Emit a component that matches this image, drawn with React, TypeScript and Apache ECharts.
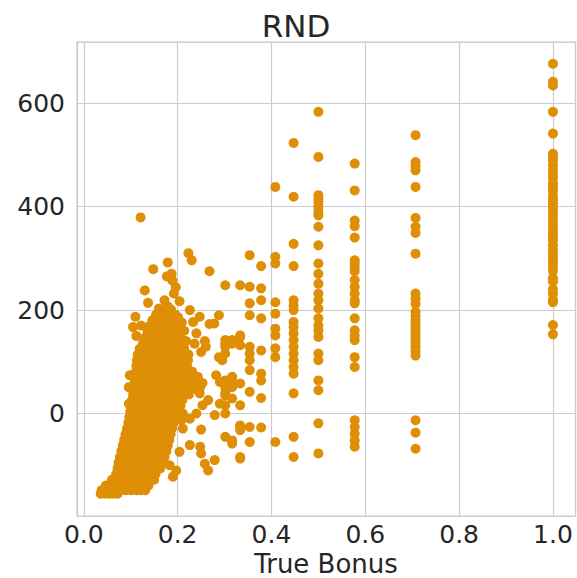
import React, { useEffect, useRef } from "react";
import * as echarts from "echarts";

const TITLE = "RND";
const X_NAME = "True Bonus";
const POINT_COLOR = "#de8f05";
const TEXT_COLOR = "#262626";
const GRID_COLOR = "#cccccc";

// Columns at discrete x values
const colX = [1.0, 0.7071, 0.5774, 0.5, 0.4472, 0.4082, 0.378, 0.3536, 0.3333, 0.3162, 0.3015];
const col100 = [676, 641, 634, 583, 541, 502, 495, 488, 480, 470, 462, 455, 445, 438, 430, 420, 412, 405, 398, 390, 382, 375, 366, 358, 350, 342, 335, 325, 316, 308, 300, 292, 285, 276, 262, 255, 240, 232, 220, 215, 171, 153];
const col071 = [538, 486, 478, 470, 438, 378, 361, 349, 309, 232, 222, 212, 196, 188, 180, 172, 165, 158, 150, 143, 135, 128, 120, 112, -13, -37, -68];
const col058 = [483, 431, 373, 362, 340, 296, 290, 283, 275, 258, 245, 232, 219, 213, 184, 161, 151, 142, 109, 90, -13, -26, -39, -52, -64];
const col050 = [583, 496, 422, 415, 409, 399, 390, 383, 361, 325, 290, 270, 251, 232, 219, 203, 184, 170, 160, 148, 116, 103, 64, 45, -19, -77];
const col045 = [523, 419, 328, 285, 219, 209, 200, 177, 167, 155, 142, 129, 116, 103, 90, 77, 39, -45, -84];
const col041 = [438, 303, 290, 215, 193, 164, 151, 126, 109, -55];
const col038 = [285, 242, 219, 184, 122, 77, 64, 30, -27];
const col035 = [306, 245, 213, 190, 129, 116, 103, 84, 42, -26, -55];
const col033 = [248, 151, 148, 132, 58, 16, -23, -26, -32, -84, -87];
const col032 = [142, 135, 71, 61, 51, 29, -52, -58];
const col030 = [248, 142, 135, 129, 116, 64, 51, 39, 35, 16, 0, -45];
const colY = [col100, col071, col058, col050, col045, col041, col038, col035, col033, col032, col030];

// Dense cluster, read row by row: [y, x values]
const clusterRows: [number, number[]][] = [
  [-155, [0.036, 0.045, 0.054, 0.063, 0.072]],
  [-148, [0.038, 0.048, 0.058, 0.068, 0.079, 0.090, 0.101, 0.112, 0.121, 0.131]],
  [-139, [0.047, 0.057, 0.067, 0.077, 0.087, 0.098, 0.108, 0.118, 0.128, 0.138]],
  [-128, [0.060, 0.070, 0.080, 0.091, 0.101, 0.112, 0.122, 0.133, 0.143, 0.150]],
  [-117, [0.069, 0.079, 0.089, 0.100, 0.110, 0.121, 0.131, 0.142, 0.153]],
  [-106, [0.072, 0.082, 0.093, 0.103, 0.114, 0.124, 0.135, 0.145, 0.156, 0.163]],
  [-95, [0.074, 0.085, 0.095, 0.106, 0.116, 0.127, 0.137, 0.148, 0.158, 0.168]],
  [-84, [0.077, 0.088, 0.098, 0.109, 0.119, 0.130, 0.140, 0.151, 0.161, 0.172]],
  [-73, [0.080, 0.090, 0.101, 0.111, 0.122, 0.132, 0.143, 0.153, 0.164, 0.176]],
  [-62, [0.083, 0.094, 0.104, 0.115, 0.125, 0.136, 0.146, 0.157, 0.167, 0.179]],
  [-51, [0.086, 0.097, 0.107, 0.118, 0.128, 0.139, 0.149, 0.160, 0.170, 0.182]],
  [-40, [0.089, 0.100, 0.110, 0.121, 0.131, 0.142, 0.152, 0.163, 0.173, 0.185]],
  [-29, [0.092, 0.103, 0.113, 0.124, 0.134, 0.145, 0.155, 0.166, 0.176, 0.188]],
  [-18, [0.095, 0.106, 0.116, 0.127, 0.137, 0.148, 0.158, 0.169, 0.179, 0.191]],
  [-7, [0.097, 0.108, 0.118, 0.129, 0.139, 0.150, 0.160, 0.171, 0.181, 0.194]],
  [4, [0.099, 0.110, 0.120, 0.131, 0.141, 0.152, 0.162, 0.173, 0.183, 0.196]],
  [15, [0.101, 0.112, 0.122, 0.133, 0.143, 0.154, 0.164, 0.175, 0.185, 0.198, 0.206]],
  [26, [0.103, 0.114, 0.124, 0.135, 0.145, 0.156, 0.166, 0.177, 0.187, 0.199, 0.210]],
  [37, [0.105, 0.116, 0.126, 0.137, 0.147, 0.158, 0.168, 0.179, 0.189, 0.201, 0.213, 0.224]],
  [48, [0.107, 0.118, 0.128, 0.139, 0.149, 0.160, 0.170, 0.181, 0.191, 0.203, 0.215, 0.227, 0.238]],
  [59, [0.108, 0.119, 0.129, 0.140, 0.150, 0.161, 0.171, 0.182, 0.192, 0.204, 0.216, 0.228, 0.241, 0.253]],
  [70, [0.110, 0.121, 0.131, 0.142, 0.152, 0.163, 0.173, 0.184, 0.194, 0.205, 0.217, 0.229, 0.240]],
  [81, [0.111, 0.122, 0.132, 0.143, 0.153, 0.164, 0.174, 0.185, 0.195, 0.206, 0.218, 0.231]],
  [92, [0.112, 0.123, 0.133, 0.144, 0.154, 0.165, 0.175, 0.186, 0.196, 0.207, 0.220]],
  [103, [0.113, 0.124, 0.134, 0.145, 0.155, 0.166, 0.176, 0.187, 0.197, 0.209, 0.222]],
  [114, [0.115, 0.126, 0.136, 0.147, 0.157, 0.168, 0.178, 0.189, 0.199, 0.211, 0.223]],
  [125, [0.119, 0.130, 0.140, 0.151, 0.161, 0.172, 0.182, 0.193, 0.203, 0.214]],
  [136, [0.126, 0.136, 0.147, 0.157, 0.168, 0.178, 0.189, 0.199, 0.210]],
  [147, [0.131, 0.141, 0.152, 0.162, 0.173, 0.183, 0.194, 0.205]],
  [158, [0.136, 0.146, 0.157, 0.167, 0.178, 0.188, 0.199]],
  [169, [0.140, 0.150, 0.161, 0.171, 0.182, 0.193, 0.203]],
  [180, [0.146, 0.156, 0.166, 0.176, 0.187, 0.198]],
  [191, [0.154, 0.164, 0.175, 0.185, 0.195]],
  [201, [0.163, 0.174, 0.186]],
];

// Scattered points around the cluster
const extraPts: [number, number][] = [
  [0.121, 379], [0.223, 310], [0.230, 296], [0.179, 292], [0.148, 279], [0.187, 270],
  [0.177, 265], [0.189, 257], [0.268, 275], [0.130, 238], [0.192, 232], [0.137, 214],
  [0.172, 219], [0.179, 207], [0.204, 217], [0.110, 187], [0.105, 167], [0.160, 203],
  [0.226, 200], [0.247, 187], [0.233, 177], [0.288, 190], [0.278, 174], [0.268, 173],
  [0.288, 109], [0.295, 103], [0.258, 140], [0.260, 129], [0.240, 155], [0.236, 135],
  [0.250, 119], [0.098, 74], [0.096, 51], [0.282, 74], [0.290, 61], [0.243, 71],
  [0.248, 51], [0.247, 39], [0.265, 26], [0.279, -3], [0.253, 16], [0.290, 19],
  [0.211, 0], [0.208, -13], [0.226, -10], [0.240, 0], [0.211, -29], [0.250, -31],
  [0.226, -61], [0.248, -64], [0.250, -77], [0.204, -74], [0.183, -100], [0.197, -110],
  [0.258, -97], [0.265, -110], [0.279, -90], [0.190, -122], [0.096, 19], [0.112, 150],
  [0.122, 170], [0.214, 160], [0.218, 140], [0.201, 186], [0.209, 176], [0.196, 244],
];

const X_MIN = -0.0145;
const X_MAX = 1.048;
const Y_MIN = -198;
const Y_MAX = 718;

export default function App() {
  const ref = useRef<HTMLDivElement>(null);
  useEffect(() => {
    if (!ref.current) return;
    const chart = echarts.init(ref.current, undefined, { renderer: "svg" });
    const pts: [number, number][] = [];
    colX.forEach((x, i) => colY[i].forEach((y) => pts.push([x, y])));
    clusterRows.forEach(([y, xs]) => xs.forEach((x) => pts.push([x, y])));
    extraPts.forEach((p) => pts.push(p));
    const font = "DejaVu Sans";
    chart.setOption({
      animation: false,
      backgroundColor: "#ffffff",
      grid: {
        left: 77, right: 1.5, top: 42, bottom: 62,
        show: true, borderColor: GRID_COLOR, borderWidth: 1.2,
        containLabel: false,
        outerBoundsMode: "none",
      },
      graphic: [
        {
          type: "text", x: 296, y: 26,
          style: {
            text: TITLE, fill: TEXT_COLOR, fontSize: 31, fontFamily: font,
            textAlign: "center", textVerticalAlign: "middle",
          },
        },
        {
          type: "text", x: 326, y: 577,
          style: {
            text: X_NAME, fill: TEXT_COLOR, fontSize: 26, fontFamily: font,
            textAlign: "center", textVerticalAlign: "bottom",
          },
        },
      ],
      xAxis: {
        type: "value", min: X_MIN, max: X_MAX, splitNumber: 5,
        minInterval: 0.2, maxInterval: 0.2,
        axisLine: { show: false }, axisTick: { show: false },
        splitLine: { show: true, lineStyle: { color: GRID_COLOR, width: 1.2 } },
        axisLabel: {
          showMinLabel: false, showMaxLabel: false,
          formatter: (v: number) => v.toFixed(1),
          fontSize: 25, color: TEXT_COLOR, fontFamily: font, margin: 6,
        },
      },
      yAxis: {
        type: "value", min: Y_MIN, max: Y_MAX, splitNumber: 5,
        minInterval: 200, maxInterval: 200,
        axisLine: { show: false }, axisTick: { show: false },
        splitLine: { show: true, lineStyle: { color: GRID_COLOR, width: 1.2 } },
        axisLabel: {
          showMinLabel: false, showMaxLabel: false,
          fontSize: 25, color: TEXT_COLOR, fontFamily: font, margin: 12,
        },
      },
      series: [
        {
          type: "scatter", data: pts, symbol: "circle", symbolSize: 10,
          itemStyle: { color: POINT_COLOR, opacity: 1 },
          emphasis: { disabled: true },
        },
      ],
    });
    return () => chart.dispose();
  }, []);
  return (
    <div
      ref={ref}
      style={{ position: "fixed", left: 0, top: 0, width: 577, height: 578, background: "#fff" }}
    />
  );
}
